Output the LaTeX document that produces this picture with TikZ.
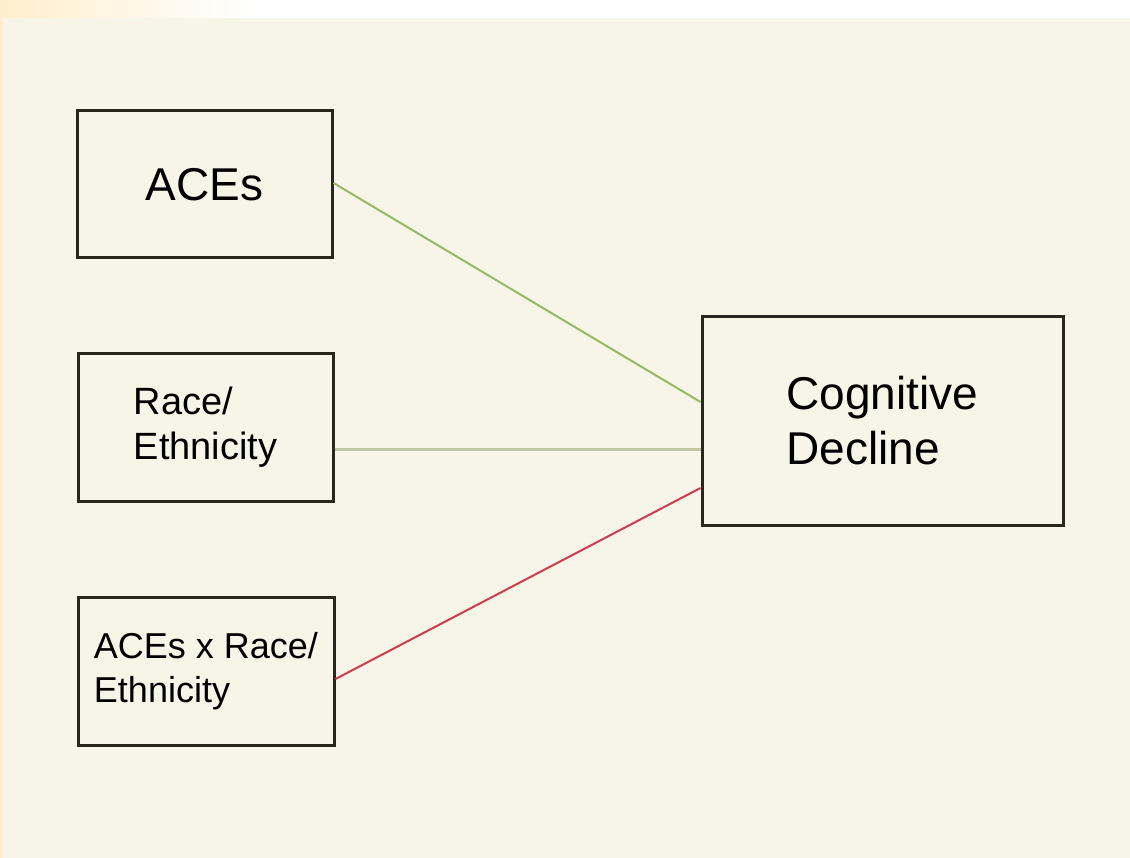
\documentclass[tikz,border=0pt]{standalone}
\usepackage{fontspec}
\setmainfont{Liberation Sans}
\definecolor{bgcream}{RGB}{247,244,232}
\definecolor{bgorange}{RGB}{255,238,205}
\definecolor{boxline}{RGB}{40,38,30}
\definecolor{greenline}{RGB}{150,185,100}
\definecolor{midline}{RGB}{190,200,165}
\definecolor{redline}{RGB}{205,60,80}
\tikzset{
  box/.style={draw=boxline, line width=3pt, fill=bgcream, rectangle, inner sep=0pt, align=left},
  conn/.style={line width=2pt}
}
\begin{document}
\begin{tikzpicture}[x=1pt,y=-1pt]
\useasboundingbox (0,0) rectangle (1130,858);
\fill[bgcream] (0,0) rectangle (1130,858);
\fill[white] (0,0) rectangle (1130,18);
\shade[left color=bgorange, right color=white] (0,0) rectangle (250,18);
\fill[bgorange] (0,0) rectangle (3,858);

\node[box, minimum width=255pt, minimum height=147pt, font=\fontsize{46}{55}\selectfont] (aces) at (204.5,184.5) {ACEs};
\node[box, minimum width=255pt, minimum height=147pt, font=\fontsize{38}{45}\selectfont] (race) at (205.5,427.5) {Race/\\Ethnicity};
\node[box, minimum width=256pt, minimum height=148pt, font=\fontsize{36}{44}\selectfont] (inter) at (206,671) {ACEs x Race/\\Ethnicity};
\node[box, minimum width=361pt, minimum height=208pt, font=\fontsize{46}{55}\selectfont] (cog) at (882.5,421) {Cognitive\\Decline};

\coordinate (cA) at ([yshift=19pt]cog.west);
\coordinate (cB) at ([yshift=-28pt]cog.west);
\coordinate (cC) at ([yshift=-67pt]cog.west);
\coordinate (rB) at ([yshift=-21.5pt]race.east);
\coordinate (rC) at ([yshift=-8pt]inter.east);

\draw[conn, greenline] ([yshift=1.5pt]aces.east) -- (cA);
\draw[conn, midline, line width=3pt] (rB) -- (cB);
\draw[conn, redline] (rC) -- (cC);
\end{tikzpicture}
\end{document}
